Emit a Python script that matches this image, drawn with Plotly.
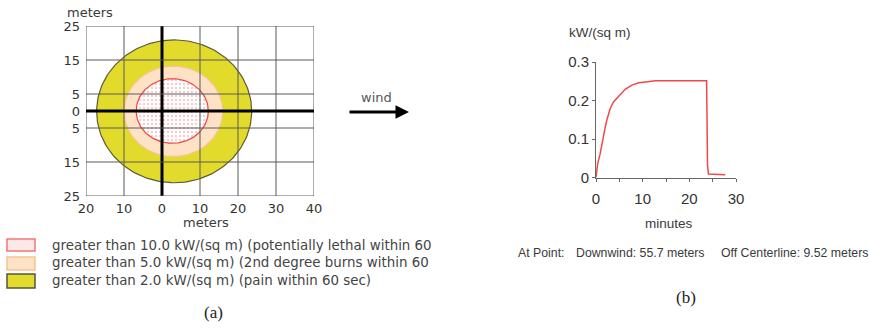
import numpy as np
import plotly.graph_objects as go

W, H = 869, 329

# ---------------- data: panel (a) thermal radiation zones ----------------
zone_names = [
    "greater than 2.0 kW/(sq m) (pain within 60 sec)",
    "greater than 5.0 kW/(sq m) (2nd degree burns within 60",
    "greater than 10.0 kW/(sq m) (potentially lethal within 60",
]
zone_cx = [3.2, 3.0, 2.7]      # meters downwind
zone_cy = [-0.1, -0.1, 0.0]    # meters crosswind
zone_rx = [20.4, 13.0, 9.5]
zone_ry = [21.0, 13.3, 9.5]

a_xticks = [-20, -10, 0, 10, 20, 30, 40]
a_xtext = ["20", "10", "0", "10", "20", "30", "40"]
a_yticks = [-25, -15, -5, 0, 5, 15, 25]
a_ytext = ["25", "15", "5", "0", "5", "15", "25"]

# ---------------- data: panel (b) radiation at point ----------------
t_min = [0, 0.36, 0.86, 1.22, 1.58, 1.94, 2.3, 3.0, 3.74, 4.82, 6.26, 7.7,
         9.14, 10.6, 12.7, 23.7, 23.9, 24.1, 27.7]
flux = [0, 0.036, 0.060, 0.086, 0.110, 0.128, 0.148, 0.178, 0.196, 0.211,
        0.229, 0.240, 0.246, 0.248, 0.251, 0.251, 0.031, 0.009, 0.007]
b_xticks = [0, 10, 20, 30]
b_yticks = [0, 0.1, 0.2, 0.3]

# ---------------- styles ----------------
VERD = "DejaVu Sans, Verdana, sans-serif"
NARROW = "Liberation Sans, Arial, sans-serif"
SERIF = "Liberation Serif, DejaVu Serif, serif"
fills = ["#e3db2c", "#fde2c6", "white"]
lines = ["#5b5b3c", "#f6c48e", "#ec4343"]
swatch_fill = ["#e3db2c", "#fde2c6", "#fde8e8"]
swatch_line = ["#55553a", "#f6c48e", "#f07676"]


def X(px):
    return px / W


def Y(py):
    return 1 - py / H


fig = go.Figure()

theta = np.linspace(0, 2 * np.pi, 181)
for i in range(3):
    kw = {}
    if i == 2:
        kw["fillpattern"] = dict(shape=".", fgcolor="#f09a9a", bgcolor="white",
                                 size=4, solidity=0.3)
    fig.add_trace(go.Scatter(
        x=zone_cx[i] + zone_rx[i] * np.cos(theta),
        y=zone_cy[i] + zone_ry[i] * np.sin(theta),
        mode="lines", fill="toself", fillcolor=fills[i],
        line=dict(color=lines[i], width=1.2), showlegend=False,
        name=zone_names[i], xaxis="x", yaxis="y", hoverinfo="skip", **kw))

fig.add_trace(go.Scatter(x=t_min, y=flux, mode="lines",
                         line=dict(color="#f04848", width=1.5),
                         xaxis="x2", yaxis="y2", showlegend=False))

# grid lines of panel (a), drawn above the zone fills
shapes = []
for xv in a_xticks:
    zero = xv == 0
    shapes.append(dict(type="line", xref="x", yref="y", x0=xv, x1=xv,
                       y0=a_yticks[0], y1=a_yticks[-1], layer="above",
                       line=dict(color="black" if zero else "#5a5a5a",
                                 width=3 if zero else 1)))
for yv in a_yticks:
    zero = yv == 0
    shapes.append(dict(type="line", xref="x", yref="y", y0=yv, y1=yv,
                       x0=a_xticks[0], x1=a_xticks[-1], layer="above",
                       line=dict(color="black" if zero else "#5a5a5a",
                                 width=3 if zero else 1)))

ann = []


def txt(s, x, y, size, family=VERD, color="#3a3a3a", xa="center"):
    ann.append(dict(text=s, x=X(x), y=Y(y), xref="paper", yref="paper",
                    xanchor=xa, yanchor="middle", showarrow=False,
                    font=dict(family=family, size=size, color=color)))


# key for panel (a): swatches + labels (listed from the inner zone outward)
key_box_top = [239, 257, 274]
key_box_bot = [251, 270, 288]
key_text_y = [245, 262.5, 280.5]
for k, i in enumerate([2, 1, 0]):
    shapes.append(dict(type="rect", xref="paper", yref="paper",
                       x0=X(7), x1=X(35), y0=Y(key_box_bot[k]), y1=Y(key_box_top[k]),
                       fillcolor=swatch_fill[i],
                       line=dict(color=swatch_line[i], width=1.5)))
    txt(zone_names[i], 50, key_text_y[k], 13.4, color="#444", xa="left")

txt("meters", 65, 13, 13, xa="left")
txt("meters", 206, 222, 13)
txt("(a)", 213, 312, 17, family=SERIF, color="#222")
txt("wind", 376, 97, 13, color="#555")
ann.append(dict(x=X(409), y=Y(112), ax=-61, ay=0, xref="paper", yref="paper",
                axref="pixel", ayref="pixel", showarrow=True, arrowhead=2,
                arrowsize=0.9, arrowwidth=3, arrowcolor="black", text=""))
txt("kW/(sq m)", 567, 32, 13.5, family=NARROW, xa="left")
txt("minutes", 669, 223, 13.5, family=NARROW)
txt("At Point:", 516, 253, 12.3, family=NARROW, xa="left")
txt("Downwind: 55.7 meters", 574, 253, 12.3, family=NARROW, xa="left")
txt("Off Centerline: 9.52 meters", 719, 253, 12.3, family=NARROW, xa="left")
txt("(b)", 686, 297, 17, family=SERIF, color="#222")

fig.update_layout(
    width=W, height=H, margin=dict(l=0, r=0, t=0, b=0, autoexpand=False),
    paper_bgcolor="white", plot_bgcolor="rgba(0,0,0,0)",
    shapes=shapes, annotations=ann, showlegend=False,
    xaxis=dict(domain=[X(86), X(314)], range=[a_xticks[0], a_xticks[-1]],
               tickvals=a_xticks, ticktext=a_xtext, showgrid=False, automargin=False,
               zeroline=False, showline=False, ticks="", ticklabelstandoff=3,
               tickfont=dict(family=VERD, size=13, color="#333"), anchor="y"),
    yaxis=dict(domain=[Y(196), Y(26)], range=[a_yticks[0], a_yticks[-1]],
               tickvals=a_yticks, ticktext=a_ytext, showgrid=False, automargin=False,
               zeroline=False, showline=False, ticks="", ticklabelstandoff=5,
               tickfont=dict(family=VERD, size=13, color="#333"), anchor="x"),
    xaxis2=dict(domain=[X(596), X(736)], range=[0, 30], tickvals=b_xticks,
                showgrid=False, zeroline=False, showline=True, linecolor="#666",
                linewidth=1, ticks="outside", ticklen=3, tickcolor="#666", automargin=False,
                minor=dict(dtick=5, ticks="outside", ticklen=3, tickcolor="#666"),
                ticklabelstandoff=4,
                tickfont=dict(family=NARROW, size=15, color="#333"), anchor="y2"),
    yaxis2=dict(domain=[Y(177.5), Y(62)], range=[0, 0.3], tickvals=b_yticks,
                showgrid=False, zeroline=False, showline=True, linecolor="#666",
                linewidth=1, ticks="outside", ticklen=3, tickcolor="#666", automargin=False,
                tickfont=dict(family=NARROW, size=15, color="#333"), anchor="x2"),
)

fig.write_html("out.html", config={"displayModeBar": False},
               post_script="document.body.style.margin='0';")
